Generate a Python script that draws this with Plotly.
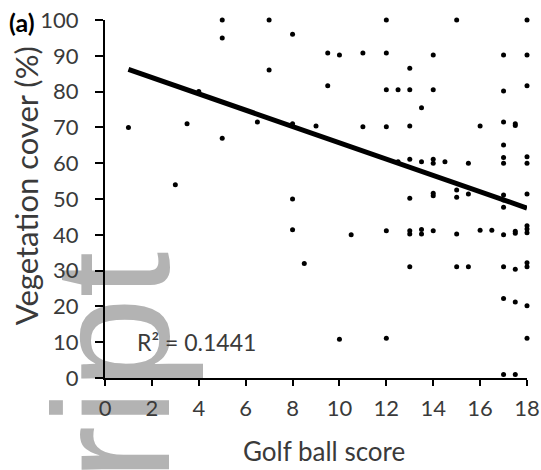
import plotly.graph_objects as go

# ---- data ----
GOLF_BALL_SCORE = [
    1, 3, 3.5, 4, 5, 5, 5, 6.5, 7, 7, 8, 8, 8, 8, 8.5, 9, 9.5, 9.5, 10, 10, 10.5,
    11, 11, 12, 12, 12, 12, 12, 12, 12.5, 12.5,
    13, 13, 13, 13, 13, 13, 13, 13, 13.5, 13.5, 13.5, 13.5,
    14, 14, 14, 14, 14, 14, 14, 14.5,
    15, 15, 15, 15, 15, 15.5, 15.5, 15.5, 16, 16, 16.5,
    17, 17, 17, 17, 17, 17, 17, 17, 17, 17, 17, 17, 17,
    17.5, 17.5, 17.5, 17.5, 17.5, 17.5, 17.5,
    18, 18, 18, 18, 18, 18, 18, 18, 18, 18, 18, 18, 18,
]
VEGETATION_COVER = [
    70, 54, 71, 80, 100, 95, 67, 71.5, 100, 86, 96, 71, 50, 41.4, 32, 70.4, 90.8, 81.6, 90.2, 10.8, 40,
    90.8, 70.2, 100, 90.8, 80.5, 70.2, 41.1, 11.1, 80.5, 60.4,
    86.5, 80.5, 70.4, 61.1, 50.2, 41.1, 40.2, 31.1, 75.5, 60.4, 41.5, 40.2,
    90.2, 80.5, 61.1, 60, 51.6, 50.9, 41.1, 60.4,
    100, 52.5, 50.5, 40.2, 31.1, 60, 51.4, 31.1, 70.4, 41.3, 41.3,
    90.2, 80.2, 71.5, 65.1, 61.6, 60, 51.1, 49.7, 47.7, 40, 31.1, 22.2, 1,
    71, 70.5, 41, 40.4, 30.4, 21.2, 1,
    100, 90.2, 81.6, 61.8, 60, 51.4, 42.5, 41.6, 40.6, 32.2, 31.1, 20.2, 11.1,
]
TREND_INTERCEPT = 88.5
TREND_SLOPE = -2.28
TREND_X_RANGE = [1, 18]
R_SQUARED = "0.1441"

X_TICKS = list(range(0, 19, 2))
Y_TICKS = list(range(0, 101, 10))

X_TITLE = "Golf ball score"
Y_TITLE = "Vegetation cover (%)"

FONT = "Lato, 'Open Sans', sans-serif"
TXT = "#3a3a3a"

trend_y = [TREND_INTERCEPT + TREND_SLOPE * x for x in TREND_X_RANGE]

fig = go.Figure()
fig.add_trace(go.Scatter(
    x=GOLF_BALL_SCORE, y=VEGETATION_COVER, mode="markers",
    marker=dict(color="black", size=5), cliponaxis=False, showlegend=False,
))
fig.add_trace(go.Scatter(
    x=TREND_X_RANGE, y=trend_y, mode="lines",
    line=dict(color="black", width=5), cliponaxis=False, showlegend=False,
))

axis_common = dict(
    showgrid=False, zeroline=False, showline=True, linecolor="black", linewidth=2,
    ticks="outside", tickwidth=2, tickcolor="black", automargin=False,
    tickfont=dict(family=FONT, size=22, color=TXT),
)
fig.update_xaxes(range=[0, 18], tickmode="array", tickvals=X_TICKS, ticklen=6,
                 ticklabelstandoff=4, **axis_common)
fig.update_yaxes(range=[0, 100], tickmode="array", tickvals=Y_TICKS, ticklen=8,
                 ticklabelstandoff=12, **axis_common)

fig.update_layout(
    width=541, height=470,
    margin=dict(l=105, r=14, t=20, b=92),
    paper_bgcolor="white", plot_bgcolor="white",
    showlegend=False,
    annotations=[
        dict(text="<b>(a)</b>", xref="paper", yref="paper", x=-0.196, y=0.994,
             xanchor="center", yanchor="middle", showarrow=False,
             font=dict(family=FONT, size=25, color="black")),
        dict(text="R² = " + R_SQUARED, xref="paper", yref="paper", x=0.072, y=0.10,
             xanchor="left", yanchor="middle", showarrow=False,
             font=dict(family=FONT, size=23, color=TXT)),
        dict(text=X_TITLE, xref="paper", yref="paper", x=0.519, y=-0.203,
             xanchor="center", yanchor="middle", showarrow=False,
             font=dict(family=FONT, size=26, color=TXT)),
        dict(text=Y_TITLE, xref="paper", yref="paper", x=-0.187, y=0.536, textangle=-90,
             xanchor="center", yanchor="middle", showarrow=False,
             font=dict(family=FONT, size=31, color=TXT)),
    ],
    shapes=[
        dict(type="rect", xref="paper", yref="paper", x0=-0.057, x1=0.013, y0=0.008, y1=0.058,
             line=dict(width=0), fillcolor="rgba(0,0,0,0)", layer="below",
             label=dict(text="ript", textangle=-90, textposition="middle center",
                        font=dict(family="Liberation Sans, Arial, sans-serif", size=165,
                                  color="#b3b3b3"))),
    ],
)

fig.write_html("out.html", config={"displayModeBar": False},
               post_script="document.body.style.margin='0';")
